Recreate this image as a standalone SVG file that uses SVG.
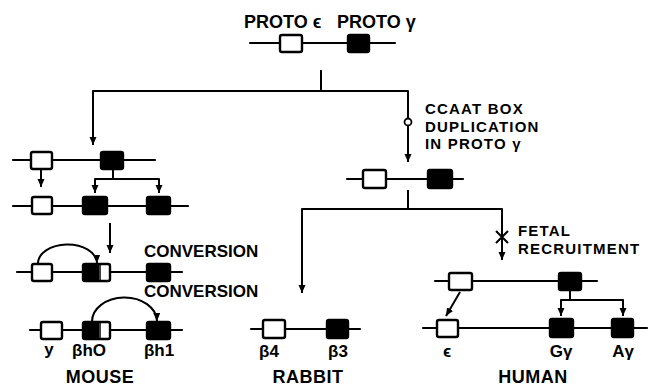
<svg xmlns="http://www.w3.org/2000/svg" width="655" height="387" viewBox="0 0 655 387">
<style>
  .ln{stroke:#000;stroke-width:2.2;fill:none;stroke-linecap:round;stroke-linejoin:round}
  .ob{fill:#fff;stroke:#000;stroke-width:2.4}
  .fb{fill:#000;stroke:#000;stroke-width:2.4}
  .cn{stroke:#000;stroke-width:2;fill:none;stroke-linejoin:round}
  .ar{marker-end:url(#ah)}
  text{font-family:"Liberation Sans",Arial,"DejaVu Sans",sans-serif;font-weight:bold;fill:#000}
  .t15{font-size:15px;letter-spacing:1.2px}
  .t17{font-size:17px}
  .t18{font-size:18px}
  .lb{font-size:17px;text-anchor:middle}
  .sp{font-size:18px;text-anchor:middle;letter-spacing:0.5px}
</style>
<defs>
  <marker id="ah" markerUnits="userSpaceOnUse" markerWidth="8" markerHeight="8" refX="8" refY="3.5" orient="auto">
    <path d="M0,0 L8,3.5 L0,7 z" fill="#000"/>
  </marker>
</defs>
<rect width="655" height="387" fill="#fff"/>

<g id="connectors">
  <path class="cn" d="M321,70 V91"/>
  <path class="cn ar" d="M321,91 H93 V145"/>
  <path class="cn ar" d="M321,91 H408 V162"/>
  <circle cx="408" cy="122" r="3.5" fill="#fff" stroke="#000" stroke-width="1.8"/>
  <path class="cn" d="M408,190 V209"/>
  <path class="cn ar" d="M408,209 H302 V293"/>
  <path class="cn ar" d="M408,209 H502 V260"/>
  <path class="cn" d="M496,231 L508,243 M508,231 L496,243"/>
  <path class="cn ar" d="M41,170 V187"/>
  <path class="cn" d="M113,169 V179"/>
  <path class="cn ar" d="M113,179 H95 V193"/>
  <path class="cn ar" d="M113,179 H159 V193"/>
  <path class="cn ar" d="M110,223 V253"/>
  <path class="cn ar" d="M38,264 A29.5,19 0 0 1 97,263"/>
  <path class="cn ar" d="M92,322 A32.5,24 0 0 1 157,321"/>
  <path class="cn ar" d="M460,292 L446,316"/>
  <path class="cn" d="M570,290 V300"/>
  <path class="cn ar" d="M570,300 H561 V316"/>
  <path class="cn ar" d="M570,300 H623 V316"/>
</g>

<g id="proto">
  <path class="ln" d="M250,43 H395"/>
  <rect class="ob" x="280" y="35" width="22" height="17" rx="2"/>
  <rect class="fb" x="348" y="35" width="21" height="17" rx="2"/>
  <text class="t18" x="244" y="28">PROTO ϵ</text>
  <text class="t18" x="337" y="28">PROTO γ</text>
</g>

<g id="ccaat-label">
  <text class="t15" x="425" y="114">CCAAT BOX</text>
  <text class="t15" x="425" y="131.5">DUPLICATION</text>
  <text class="t15" x="425" y="149">IN PROTO γ</text>
</g>

<g id="mid-row">
  <path class="ln" d="M347,179 H463"/>
  <rect class="ob" x="363" y="170" width="23" height="18" rx="2"/>
  <rect class="fb" x="428" y="170" width="24" height="18" rx="2"/>
</g>

<g id="mouse-row1">
  <path class="ln" d="M13,160 H155"/>
  <rect class="ob" x="31" y="152" width="21" height="17" rx="2"/>
  <rect class="fb" x="101" y="152" width="22" height="17" rx="2"/>
</g>

<g id="mouse-row2">
  <path class="ln" d="M13,206 H188"/>
  <rect class="ob" x="32" y="197" width="20" height="17" rx="2"/>
  <rect class="fb" x="83" y="197" width="24" height="17" rx="2"/>
  <rect class="fb" x="147" y="197" width="23" height="17" rx="2"/>
</g>

<g id="mouse-row3">
  <path class="ln" d="M17,272 H182"/>
  <rect class="ob" x="32" y="264" width="20" height="17" rx="2"/>
  <rect class="ob" x="83" y="264" width="27" height="17" rx="2"/>
  <rect x="83" y="264" width="16" height="17" fill="#000"/>
  <path d="M100,264 V281" stroke="#000" stroke-width="1.5"/>
  <rect class="fb" x="147" y="264" width="23" height="17" rx="2"/>
  <text class="t17" x="144" y="257">CONVERSION</text>
</g>

<g id="mouse-row4">
  <path class="ln" d="M30,330 H182"/>
  <rect class="ob" x="41" y="322" width="21" height="17" rx="2"/>
  <rect class="ob" x="83" y="322" width="27" height="17" rx="2"/>
  <rect x="83" y="322" width="16" height="17" fill="#000"/>
  <path d="M100,322 V339" stroke="#000" stroke-width="1.5"/>
  <rect class="fb" x="147" y="322" width="23" height="17" rx="2"/>
  <text class="t17" x="144" y="297">CONVERSION</text>
  <text class="lb" x="49" y="355">y</text>
  <text class="lb" x="89" y="356">βhO</text>
  <text class="lb" x="159" y="356">βh1</text>
  <text class="sp" x="100" y="383">MOUSE</text>
</g>

<g id="rabbit">
  <path class="ln" d="M251,329 H360"/>
  <rect class="ob" x="263" y="320" width="22" height="18" rx="2"/>
  <rect class="fb" x="327" y="320" width="21" height="18" rx="2"/>
  <text class="lb" x="269" y="357">β4</text>
  <text class="lb" x="338" y="357">β3</text>
  <text class="sp" x="308" y="383">RABBIT</text>
</g>

<g id="fetal-label">
  <text class="t15" x="518" y="236">FETAL</text>
  <text class="t15" x="518" y="253.5">RECRUITMENT</text>
</g>

<g id="human-row1">
  <path class="ln" d="M435,281 H597"/>
  <rect class="ob" x="449" y="273" width="23" height="17" rx="2"/>
  <rect class="fb" x="559" y="273" width="22" height="17" rx="2"/>
</g>

<g id="human-row2">
  <path class="ln" d="M423,328 H647"/>
  <rect class="ob" x="437" y="320" width="21" height="17" rx="2"/>
  <rect class="fb" x="550" y="319" width="23" height="18" rx="2"/>
  <rect class="fb" x="612" y="319" width="21" height="18" rx="2"/>
  <text class="lb" x="447" y="357">ϵ</text>
  <text class="lb" x="561" y="357">Gγ</text>
  <text class="lb" x="623" y="357">Aγ</text>
  <text class="sp" x="533" y="383">HUMAN</text>
</g>
</svg>
